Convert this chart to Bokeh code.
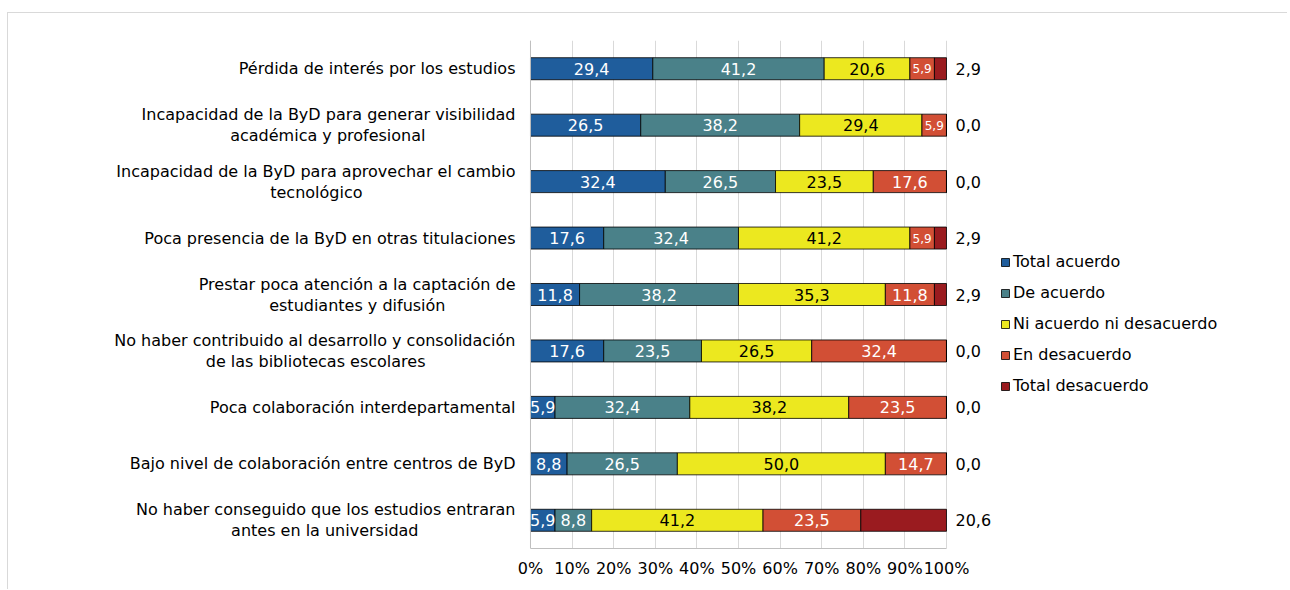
from bokeh.plotting import figure
from bokeh.models import (ColumnDataSource, FactorRange, Range1d, Legend, LegendItem,
                          FixedTicker, PrintfTickFormatter, Span)
from bokeh.core.properties import value
from bokeh.embed import file_html
from bokeh.resources import INLINE

categories = [
    "Pérdida de interés por los estudios",
    "Incapacidad de la ByD para generar visibilidad\nacadémica y profesional",
    "Incapacidad de la ByD para aprovechar el cambio\ntecnológico",
    "Poca presencia de la ByD en otras titulaciones",
    "Prestar poca atención a la captación de\nestudiantes y difusión",
    "No haber contribuido al desarrollo y consolidación\nde las bibliotecas escolares",
    "Poca colaboración interdepartamental",
    "Bajo nivel de colaboración entre centros de ByD",
    "No haber conseguido que los estudios entraran\nantes en la universidad",
]
series = ["Total acuerdo", "De acuerdo", "Ni acuerdo ni desacuerdo", "En desacuerdo", "Total desacuerdo"]
total_acuerdo = [29.4, 26.5, 32.4, 17.6, 11.8, 17.6, 5.9, 8.8, 5.9]
de_acuerdo = [41.2, 38.2, 26.5, 32.4, 38.2, 23.5, 32.4, 26.5, 8.8]
ni_acuerdo_ni_desacuerdo = [20.6, 29.4, 23.5, 41.2, 35.3, 26.5, 38.2, 50.0, 41.2]
en_desacuerdo = [5.9, 5.9, 17.6, 5.9, 11.8, 32.4, 23.5, 14.7, 23.5]
total_desacuerdo = [2.9, 0.0, 0.0, 2.9, 2.9, 0.0, 0.0, 0.0, 20.6]
x_ticks = [0, 10, 20, 30, 40, 50, 60, 70, 80, 90, 100]

# extra left shift (px) of the second line of wrapped category labels (centred under line 1)
second_line_shift = [0, 90, 153, 0, 70, 90, 0, 0, 97]

colors = ["#1f5d9c", "#4a8189", "#ece81f", "#d24f35", "#9a1b1f"]
label_colors = ["white", "white", "black", "white", "black"]
FONT = "DejaVu Sans"
FS = "16px"

keys = ["s0", "s1", "s2", "s3", "s4"]
values_all = [total_acuerdo, de_acuerdo, ni_acuerdo_ni_desacuerdo, en_desacuerdo, total_desacuerdo]
data = {"cat": categories}
for k, v in zip(keys, values_all):
    data[k] = v
src = ColumnDataSource(data)

W, H = 1280, 577
p = figure(width=W, height=H, output_backend="svg", toolbar_location=None,
           y_range=FactorRange(factors=list(reversed(categories))),
           x_range=Range1d(-125.48, 181.25),
           min_border_left=0, min_border_right=4, min_border_top=27, min_border_bottom=42)
p.styles = {"border-top": "1px solid #d9d9d9", "border-left": "1px solid #d9d9d9",
            "margin-left": "7px", "margin-top": "12px"}
p.outline_line_color = None
p.background_fill_color = "white"
p.border_fill_color = "white"

renderers = p.hbar_stack(keys, y="cat", height=0.39, color=colors, source=src,
                         line_color="black", line_width=0.8)

# value labels
xs, ys, ts, cs, fs = [], [], [], [], []
ox, oy, ot = [], [], []
for j, cat in enumerate(categories):
    start = 0.0
    for i, vals in enumerate(values_all):
        v = vals[j]
        txt = f"{v:.1f}".replace(".", ",")
        if i == 4:
            ox.append(100.0)
            oy.append(cat)
            ot.append(txt)
        elif v > 0:
            xs.append(start + v / 2.0)
            ys.append(cat)
            ts.append(txt)
            cs.append(label_colors[i])
            fs.append("12px" if (i == 3 and v < 10) else FS)
        start += v

lab_src = ColumnDataSource(dict(x=xs, y=ys, t=ts, c=cs, f=fs))
p.text(x="x", y="y", text="t", source=lab_src, text_align="center", text_baseline="middle",
       text_color="c", text_font=value(FONT), text_font_size="f")

out_src = ColumnDataSource(dict(x=ox, y=oy, t=ot))
p.text(x="x", y="y", text="t", source=out_src, x_offset=9,
       text_align="left", text_baseline="middle", text_color="black",
       text_font=value(FONT), text_font_size=FS)

# category labels (drawn as text, lines laid out like the original)
cx, cy, ct, cxo, cyo = [], [], [], [], []
for cat, shift in zip(categories, second_line_shift):
    lines = cat.split("\n")
    if len(lines) == 1:
        cx.append(0); cy.append(cat); ct.append(lines[0]); cxo.append(-15); cyo.append(0)
    else:
        cx.append(0); cy.append(cat); ct.append(lines[0]); cxo.append(-15); cyo.append(-10.5)
        cx.append(0); cy.append(cat); ct.append(lines[1]); cxo.append(-15 - shift); cyo.append(10.5)
cat_src = ColumnDataSource(dict(x=cx, y=cy, t=ct, xo=cxo, yo=cyo))
p.text(x="x", y="y", text="t", source=cat_src, x_offset="xo", y_offset="yo",
       text_align="right", text_baseline="middle", text_color="black",
       text_font=value(FONT), text_font_size=FS)

# axes
p.xaxis.ticker = FixedTicker(ticks=x_ticks)
p.xaxis.bounds = (0, 100)
p.xaxis.formatter = PrintfTickFormatter(format="%d%%")
p.xaxis.major_label_text_font = FONT
p.xaxis.major_label_text_font_size = FS
p.xaxis.major_label_text_color = "black"
p.xaxis.axis_line_color = "#bfbfbf"
p.xaxis.major_tick_line_color = None
p.xaxis.minor_tick_line_color = None
p.xaxis.major_tick_out = 0
p.xaxis.major_tick_in = 0
p.xaxis.major_label_standoff = 10

p.yaxis.visible = False
p.xgrid.grid_line_color = "#d9d9d9"
p.ygrid.grid_line_color = None
p.add_layout(Span(location=0, dimension="height", line_color="#bfbfbf", line_width=1))

legend = Legend(items=[LegendItem(label=s, renderers=[r]) for s, r in zip(series, renderers)],
                location=(992, 147), orientation="vertical", glyph_width=10, glyph_height=10,
                label_text_font=FONT, label_text_font_size=FS, label_text_color="black",
                spacing=0, label_height=31, padding=0, margin=0, label_standoff=3,
                border_line_alpha=0, background_fill_alpha=0)
p.add_layout(legend)

open("out.html", "w").write(file_html(p, INLINE))
